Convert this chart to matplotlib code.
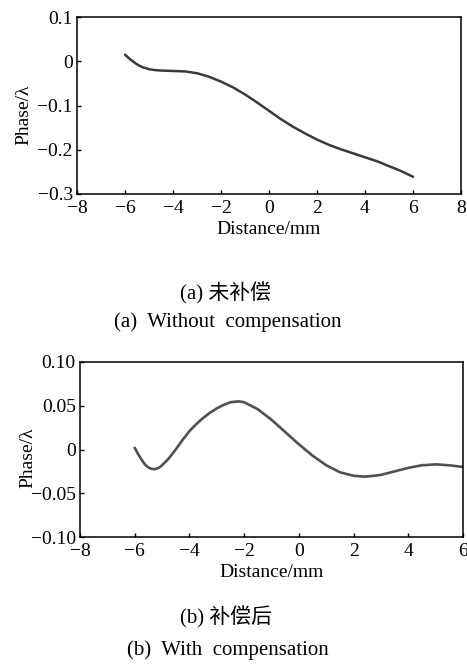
import matplotlib
matplotlib.use("Agg")
import matplotlib.pyplot as plt

plt.rcParams['font.family'] = ['Liberation Serif', 'Noto Sans CJK SC', 'DejaVu Sans']
plt.rcParams['axes.unicode_minus'] = True

# (a) without compensation
xa = [-6, -5.9, -5.8, -5.7, -5.6, -5.5, -5.4, -5.25, -5.1, -5, -4.75, -4.5,
      -4.25, -4, -3.5, -3, -2.5, -2, -1.5, -1, -0.5,
      0, 0.5, 1, 1.5, 2, 2.5, 3, 3.5, 4, 4.5, 5, 5.5, 6]
ya = [0.015, 0.010, 0.005, 0.001, -0.003, -0.007, -0.010, -0.014, -0.016,
      -0.018, -0.020, -0.021, -0.0215, -0.022, -0.023, -0.027,
      -0.035, -0.046, -0.059, -0.075, -0.093, -0.112, -0.131, -0.148, -0.163,
      -0.177, -0.189, -0.199, -0.208, -0.217, -0.226, -0.237, -0.248, -0.261]

# (b) with compensation
xb = [-6, -5.9, -5.8, -5.7, -5.6, -5.5, -5.4, -5.3, -5.2, -5.1, -5, -4.9,
      -4.75, -4.5, -4.25, -4, -3.75, -3.5, -3.25, -3, -2.75, -2.5,
      -2.2, -2, -1.75, -1.5, -1.25, -1, -0.5, 0, 0.5, 1, 1.25, 1.5, 1.75,
      2, 2.4, 2.75, 3, 3.5, 4, 4.5, 5, 5.5, 6]
yb = [0.002, -0.004, -0.009, -0.014, -0.018, -0.0205, -0.022, -0.0225,
      -0.022, -0.0205, -0.018, -0.015, -0.010, 0.000, 0.011, 0.021, 0.029,
      0.036, 0.042, 0.047, 0.051, 0.054, 0.055, 0.054, 0.050, 0.046, 0.040,
      0.034, 0.020, 0.006, -0.007, -0.018, -0.022, -0.026, -0.028,
      -0.030, -0.031, -0.030, -0.029, -0.025, -0.021, -0.018, -0.017,
      -0.018, -0.020]

xticks_a = [-8, -6, -4, -2, 0, 2, 4, 6, 8]
yticks_a = [0.1, 0, -0.1, -0.2, -0.3]
ylabels_a = ['0.1', '0', '\u22120.1', '\u22120.2', '\u22120.3']
xticks_b = [-8, -6, -4, -2, 0, 2, 4, 6]
yticks_b = [0.10, 0.05, 0, -0.05, -0.10]
ylabels_b = ['0.10', '0.05', '0', '\u22120.05', '\u22120.10']

W, H = 467, 669
fig = plt.figure(figsize=(W / 100, H / 100), dpi=100)

def style(ax):
    for s in ax.spines.values():
        s.set_linewidth(1.1)
    ax.tick_params(direction='in', length=3, width=1, labelsize=14,
                   top=False, right=False)
    ax.tick_params(axis='x', pad=4)
    ax.tick_params(axis='y', pad=3)
    ax.set_xlabel('Distance/mm', fontsize=14, labelpad=3)
    ax.set_ylabel('Phase/\u03bb', fontsize=14)
    ax.yaxis.set_label_coords(-0.115, 0.45)

ax1 = fig.add_axes([77 / W, 1 - 194 / H, 384 / W, 177 / H])
ax1.plot(xa, ya, color='#3a3a3a', lw=1.8, solid_capstyle='round', solid_joinstyle='round')
ax1.set_xlim(-8, 8)
ax1.set_ylim(-0.3, 0.1)
ax1.set_xticks(xticks_a)
ax1.set_xticklabels([str(t).replace('-', '\u2212') for t in xticks_a])
ax1.set_yticks(yticks_a)
ax1.set_yticklabels(ylabels_a)
style(ax1)

ax2 = fig.add_axes([80 / W, 1 - 537 / H, 383 / W, 175 / H])
ax2.plot(xb, yb, color='#505050', lw=1.9, solid_capstyle='round', solid_joinstyle='round')
ax2.set_xlim(-8, 6)
ax2.set_ylim(-0.10, 0.10)
ax2.set_xticks(xticks_b)
ax2.set_xticklabels([str(t).replace('-', '\u2212') for t in xticks_b])
ax2.set_yticks(yticks_b)
ax2.set_yticklabels(ylabels_b)
style(ax2)

fig.text(226 / W, 1 - 293 / H, '(a) 未补偿', ha='center', va='center', fontsize=15)
fig.text(228 / W, 1 - 322 / H, '(a)  Without  compensation', ha='center', va='center', fontsize=15)
fig.text(226 / W, 1 - 617 / H, '(b) 补偿后', ha='center', va='center', fontsize=15)
fig.text(228 / W, 1 - 650 / H, '(b)  With  compensation', ha='center', va='center', fontsize=15)

fig.savefig('out.png', dpi=100)
